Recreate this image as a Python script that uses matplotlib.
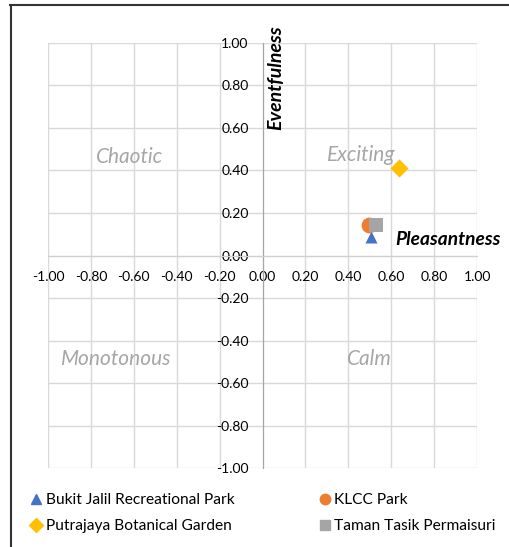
import matplotlib
matplotlib.use('Agg')
import matplotlib.pyplot as plt
from matplotlib.lines import Line2D

plt.rcParams['font.family'] = ['Lato', 'DejaVu Sans']

# soundscape coordinates (pleasantness, eventfulness)
parks = ['Bukit Jalil Recreational Park', 'KLCC Park',
         'Putrajaya Botanical Garden', 'Taman Tasik Permaisuri']
pleasant = [0.505, 0.495, 0.635, 0.53]
eventful = [0.085, 0.145, 0.41, 0.145]
colors = ['#4472C4', '#ED7D31', '#FFC000', '#A5A5A5']
markers = ['^', 'o', 'D', 's']
sizes = [75, 130, 85, 95]

ticks = [-1.0, -0.8, -0.6, -0.4, -0.2, 0.0, 0.2, 0.4, 0.6, 0.8, 1.0]
quadrants = ['Chaotic', 'Exciting', 'Monotonous', 'Calm']
quad_x = [-0.62, 0.46, -0.68, 0.50]
quad_y = [0.465, 0.475, -0.485, -0.485]

fig = plt.figure(figsize=(5.09, 5.47), dpi=100)
ax = fig.add_axes([0.0943, 0.1444, 0.843, 0.777])

for i in range(len(parks)):
    ax.scatter(pleasant[i], eventful[i], marker=markers[i], s=sizes[i],
               color=colors[i], zorder=3 + (i == 3), linewidths=0)

ax.set_xlim(-1, 1)
ax.set_ylim(-1, 1)
ax.set_xticks(ticks)
ax.set_yticks(ticks)
ax.set_xticklabels(['%.2f' % t for t in ticks], fontsize=11.5)
ax.set_yticklabels(['%.2f' % t for t in ticks], fontsize=11.5)
ax.tick_params(axis='x', length=0, pad=11)
ax.tick_params(axis='y', length=0, pad=10)
ax.grid(True, color='#D9D9D9', lw=1)
ax.set_axisbelow(True)

ax.spines['left'].set_position('zero')
ax.spines['bottom'].set_position('zero')
ax.spines['left'].set_color('#A6A6A6')
ax.spines['bottom'].set_color('#D0D0D0')
ax.spines['right'].set_visible(False)
ax.spines['top'].set_visible(False)

for name, qx, qy in zip(quadrants, quad_x, quad_y):
    ax.text(qx, qy, name, color='#A6A6A6', fontsize=15, style='italic',
            ha='center', va='center')

ax.text(0.62, 0.075, 'Pleasantness', fontsize=13.8, style='italic',
        fontweight='bold', ha='left', va='center')
ax.text(0.062, 1.085, 'Eventfulness', fontsize=14, style='italic',
        fontweight='bold', rotation=90, ha='center', va='top')

handles = [Line2D([], [], marker=markers[i], color=colors[i], ls='none',
                  markersize=7.5) for i in range(4)]
order = [0, 2, 1, 3]
fig.legend([handles[i] for i in order], [parks[i] for i in order],
           loc='lower left', bbox_to_anchor=(0.035, 0.0), ncol=2,
           frameon=False, fontsize=11.2, handlelength=0.6, handletextpad=0.3,
           columnspacing=5.5, labelspacing=0.75)

# border lines
fig.add_artist(Line2D([0.02, 1.0], [0.991, 0.991], color='#333333', lw=1.5,
                      transform=fig.transFigure))
fig.add_artist(Line2D([0.021, 0.021], [0.0, 0.991], color='#333333', lw=1.5,
                      transform=fig.transFigure))

fig.savefig('out.png', dpi=100)
